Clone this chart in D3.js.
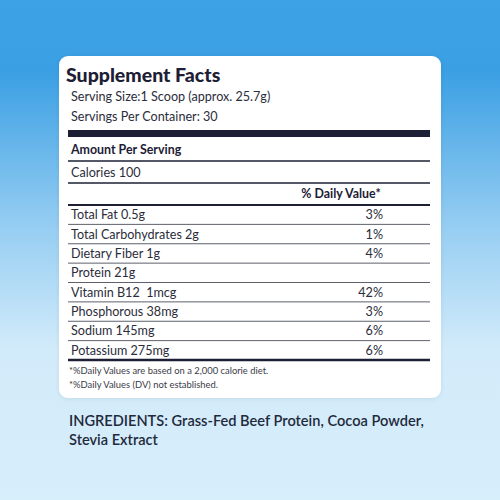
<!DOCTYPE html>
<html><head><meta charset="utf-8">
<script src="https://cdn.jsdelivr.net/npm/d3@7"></script>
<style>html,body{margin:0;padding:0;overflow:hidden;background:#fff} text{white-space:pre}</style>
</head><body>
<script>
const title = "Supplement Facts";
const servingLines = ["Serving Size:1 Scoop (approx. 25.7g)", "Servings Per Container: 30"];
const amountLabel = "Amount Per Serving";
const caloriesLabel = "Calories 100";
const dvHeader = "% Daily Value*";
const nutrients = ["Total Fat 0.5g","Total Carbohydrates 2g","Dietary Fiber 1g","Protein 21g","Vitamin B12  1mcg","Phosphorous 38mg","Sodium 145mg","Potassium 275mg"];
const dailyValues = ["3%","1%","4%","","42%","3%","6%","6%"];
const footnotes = ["*%Daily Values are based on a 2,000 calorie diet.","*%Daily Values (DV) not established."];
const ingredients = ["INGREDIENTS: Grass-Fed Beef Protein, Cocoa Powder,","Stevia Extract"];

const W = 500, H = 500;
const font = "Lato, 'Open Sans', sans-serif";
const ink = "#1d2035";
const svg = d3.select("body").append("svg").attr("width", W).attr("height", H);
const defs = svg.append("defs");
const g = defs.append("linearGradient").attr("id","bg").attr("x1",0).attr("y1",0).attr("x2",0).attr("y2",1);
[[0,"#3da2e6"],[0.14,"#3a9fe3"],[0.45,"#95cdf2"],[0.7,"#d2ebfa"],[1,"#d7eefb"]].forEach(([o,c])=>g.append("stop").attr("offset",o).attr("stop-color",c));
const f = defs.append("filter").attr("id","sh").attr("x","-5%").attr("y","-5%").attr("width","110%").attr("height","110%");
f.append("feDropShadow").attr("dx",0).attr("dy",1).attr("stdDeviation",2).attr("flood-color","#000").attr("flood-opacity",0.08);

svg.append("rect").attr("width",W).attr("height",H).attr("fill","url(#bg)");
svg.append("rect").attr("x",59).attr("y",56).attr("width",382).attr("height",342).attr("rx",9).attr("fill","#fff").attr("filter","url(#sh)");

const x0 = 68, x1 = 430, xPct = 383;
const txt = (x,y,s,size,weight,anchor,color) => svg.append("text").attr("x",x).attr("y",y).text(s)
  .attr("font-family",font).attr("font-size",size).attr("font-weight",weight||400)
  .attr("text-anchor",anchor||"start").attr("dominant-baseline","central").attr("fill",color||ink)
  .attr("xml:space","preserve");
const line = (y,w,c) => svg.append("line").attr("x1",x0).attr("x2",x1).attr("y1",y).attr("y2",y).attr("stroke",c||ink).attr("stroke-width",w);

txt(66,74,title,19.5,900);
const sy = d3.scalePoint().domain(servingLines).range([96,116]);
servingLines.forEach(s=>txt(71,sy(s),s,12.6,400,"start","#2b2d3a"));
svg.append("rect").attr("x",x0).attr("y",130).attr("width",x1-x0).attr("height",7).attr("fill",ink);
txt(71,149,amountLabel,12.4,700);
line(161,1.6);
txt(71,172,caloriesLabel,12.6,400,"start","#2b2d3a");
line(183,1.6);
txt(341,193,dvHeader,12.4,700,"middle");
line(205,2);

const y = d3.scaleBand().domain(nutrients).range([205,360]);
nutrients.forEach((n,i)=>{
  const yc = y(n)+y.bandwidth()/2;
  txt(71,yc,n,12.6,400,"start","#2b2d3a");
  if (dailyValues[i]) txt(xPct,yc,dailyValues[i],12.6,400,"end","#2b2d3a");
  if (i>0) line(y(n),1,"#5e606c");
});
line(360,2.6);
const fy = d3.scalePoint().domain(footnotes).range([370,384]);
footnotes.forEach(s=>txt(69,fy(s),s,9.4,400,"start","#3a3c48"));

const iy = d3.scalePoint().domain(ingredients).range([420,439]);
ingredients.forEach(s=>txt(69,iy(s),s,14.6,600,"start","#1f2a3c"));
</script>
</body></html>
